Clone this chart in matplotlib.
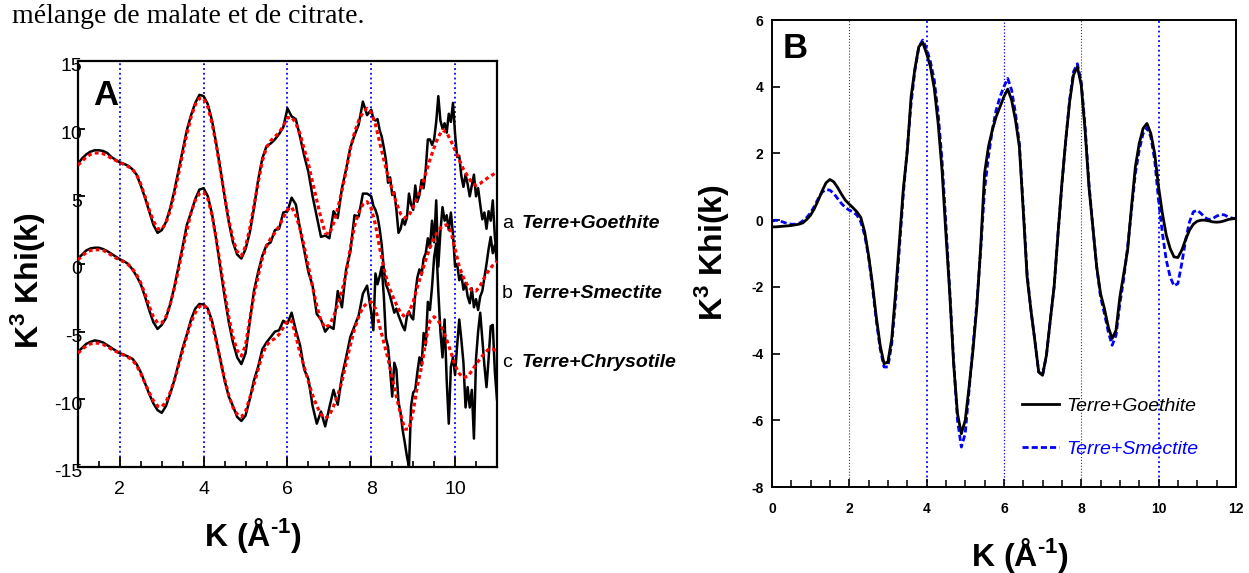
import numpy as np
import matplotlib
matplotlib.use("Agg")
import matplotlib.pyplot as plt
from matplotlib.ticker import MultipleLocator
from matplotlib.transforms import ScaledTranslation

plt.rcParams['font.family'] = ['Liberation Sans', 'DejaVu Sans']
plt.rcParams['axes.unicode_minus'] = False
plt.rcParams['mathtext.fontset'] = 'custom'
plt.rcParams['mathtext.rm'] = 'Liberation Sans:bold'
plt.rcParams['mathtext.bf'] = 'Liberation Sans:bold'

# ---------------- Panel A : EXAFS data (black) and fits (red) ----------------
kA_fit = np.round(np.arange(1.0, 11.001, 0.1), 2)
kA_data = np.round(np.concatenate([np.arange(1.0, 7.95, 0.1), np.arange(8.0, 11.001, 0.05)]), 2)

goethite_fit = [
    7.3, 7.6, 7.9, 8.1, 8.2, 8.2, 8.15, 8.0, 7.8, 7.65,
    7.5, 7.35, 7.2, 7.0, 6.6, 5.9, 5.0, 4.0, 3.2, 2.6,
    2.56, 3.03, 3.94, 5.18, 6.64, 8.16, 9.62, 10.86, 11.77, 12.24,
    12.22, 11.6, 10.41, 8.8, 6.94, 5.02, 3.25, 1.82, 0.92, 0.6,
    1.3, 2.6, 4.3, 6.0, 7.6, 8.6, 9.1, 9.4, 9.7, 10.2,
    10.8, 10.85, 10.4, 9.6, 8.5, 7.4, 6.0, 4.7, 3.4, 2.3,
    2.2, 3.0, 4.1, 5.4, 6.9, 8.5, 9.7, 10.6, 11.2, 11.5,
    11.2, 10.3, 9.0, 7.7, 6.5, 5.5, 4.5, 3.7, 3.4, 3.6,
    4.2, 4.9, 5.7, 6.7, 7.7, 8.6, 9.4, 9.9, 9.7, 9.1,
    8.4, 7.7, 7.0, 6.5, 6.0, 5.8, 5.95, 6.2, 6.4, 6.6,
    6.8]
goethite_data = [
    7.4, 7.8, 8.1, 8.3, 8.4, 8.4, 8.35, 8.2, 7.9, 7.7,
    7.5, 7.4, 7.25, 7.0, 6.6, 5.8, 4.9, 3.9, 2.9, 2.3,
    2.5, 3.1, 4.1, 5.4, 6.9, 8.4, 9.9, 11.0, 11.9, 12.5,
    12.4, 11.8, 10.6, 8.9, 7.0, 5.0, 3.1, 1.6, 0.7, 0.4,
    1.1, 2.3, 4.1, 6.2, 7.8, 8.7, 8.9, 9.2, 9.6, 10.1,
    11.5, 10.9, 10.7, 9.4, 8.0, 6.8, 5.0, 3.5, 2.0, 2.1,
    1.9, 3.9, 3.4, 5.6, 7.0, 8.6, 9.5, 10.3, 12.0, 11.0,
    11.4, 10.7, 10.6, 10.7, 9.9, 9.4, 8.6, 7.7, 6.0, 6.4,
    5.1, 5.3, 4.0, 2.3, 2.6, 3.3, 2.9, 3.4, 5.2, 4.4,
    4.0, 5.8, 4.6, 5.1, 6.2, 5.6, 7.0, 9.2, 9.2, 8.8,
    9.2, 10.5, 12.4, 10.6, 10.0, 10.4, 9.7, 11.1, 10.5, 11.9,
    9.6, 7.9, 8.0, 6.5, 5.7, 6.6, 5.9, 5.0, 5.8, 6.6,
    5.0, 5.6, 4.4, 3.3, 3.8, 2.6, 3.9, 3.2, 4.7, 2.0,
    0.3]

smectite_fit = [
    0.3, 0.6, 0.85, 1.0, 1.05, 1.05, 1.0, 0.85, 0.65, 0.45,
    0.3, 0.15, -0.05, -0.35, -0.8, -1.4, -2.2, -3.1, -3.9, -4.35,
    -4.35, -3.9, -3.0, -1.8, -0.4, 1.1, 2.5, 3.8, 4.7, 5.2,
    5.3, 4.8, 3.6, 1.9, -0.1, -2.1, -3.9, -5.4, -6.4, -6.8,
    -6.0, -4.1, -2.3, -0.9, 0.4, 1.3, 1.9, 2.3, 2.8, 3.4,
    4.0, 4.2, 3.6, 2.6, 1.3, -0.2, -1.7, -3.1, -4.2, -4.7,
    -4.5, -3.9, -3.0, -2.0, -0.7, 1.2, 2.8, 3.8, 4.4, 4.6,
    4.1, 2.9, 1.2, -0.3, -1.5, -2.3, -3.0, -3.6, -3.9, -3.6,
    -2.8, -1.7, -0.7, 0.3, 1.2, 1.9, 2.5, 2.8, 2.9, 2.4,
    1.1, -0.2, -1.0, -1.6, -1.95, -2.0, -1.6, -1.0, -0.5, -0.1,
    0.2]
smectite_data = [
    0.4, 0.7, 1.0, 1.15, 1.2, 1.2, 1.1, 0.95, 0.75, 0.55,
    0.35, 0.2, 0.0, -0.4, -0.9, -1.5, -2.4, -3.4, -4.3, -4.8,
    -4.5, -4.0, -3.0, -1.7, -0.2, 1.3, 2.9, 3.8, 4.8, 5.5,
    5.6, 5.0, 3.7, 1.8, -0.3, -2.4, -4.3, -5.8, -6.9, -7.4,
    -6.6, -4.3, -2.0, -0.6, 0.6, 1.4, 1.6, 2.5, 2.6, 3.8,
    3.9, 4.9, 4.4, 2.6, 1.0, -0.6, -1.6, -3.7, -4.1, -5.0,
    -4.6, -4.8, -2.0, -3.2, -0.4, 0.9, 3.6, 3.5, 5.2, 5.2,
    5.0, 4.3, 4.0, 3.5, 2.6, 1.4, -0.4, -1.5, -1.9, -2.4,
    -3.0, -3.6, -3.3, -3.8, -4.2, -4.6, -4.9, -3.9, -3.5, -3.9,
    -4.1, -2.2, -1.0, -0.4, -0.8, 0.4, 0.8, 1.9, 1.2, 3.2,
    1.6, 4.7, -0.2, 2.4, 4.2, 3.2, 3.6, 2.5, 3.8, 2.2,
    -0.2, 0.0, -1.2, -0.8, -1.9, -1.4, -2.4, -2.9, -1.8, -3.2,
    -2.6, -3.4, -2.4, -2.0, -1.0, 0.0, 1.1, 2.0, 0.8, 1.4,
    0.2]

chrysotile_fit = [
    -6.6, -6.3, -6.05, -5.9, -5.85, -5.85, -5.95, -6.1, -6.3, -6.45,
    -6.6, -6.75, -6.9, -7.1, -7.5, -8.1, -8.8, -9.5, -10.1, -10.5,
    -10.55, -10.2, -9.5, -8.6, -7.5, -6.4, -5.3, -4.3, -3.6, -3.15,
    -3.0, -3.4, -4.4, -5.7, -7.1, -8.5, -9.7, -10.6, -11.1, -11.3,
    -10.9, -9.9, -8.9, -7.8, -6.7, -6.0, -5.7, -5.5, -5.2, -4.7,
    -4.2, -4.2, -5.3, -6.6, -7.6, -8.7, -9.7, -10.5, -11.1, -11.4,
    -11.2, -10.5, -9.7, -8.7, -7.3, -6.0, -4.8, -3.9, -3.2, -2.9,
    -2.8, -3.3, -4.6, -5.8, -7.0, -8.4, -9.8, -11.1, -12.2, -12.2,
    -10.9, -9.0, -7.6, -5.7, -4.2, -3.9, -4.2, -4.8, -5.6, -6.5,
    -7.5, -8.1, -8.4, -8.3, -7.9, -7.4, -7.0, -6.6, -6.3, -6.3,
    -6.4]
chrysotile_data = [
    -6.5, -6.2, -5.9, -5.75, -5.65, -5.7, -5.8, -6.0, -6.2, -6.4,
    -6.6, -6.7, -6.85, -7.0, -7.4, -8.0, -8.8, -9.6, -10.3, -10.8,
    -11.0, -10.5, -9.6, -8.6, -7.4, -6.2, -5.2, -4.1, -3.3, -2.95,
    -3.0, -3.3, -4.2, -5.6, -7.1, -8.6, -9.8, -10.5, -11.3, -11.6,
    -11.2, -10.0, -8.6, -7.6, -6.3, -5.8, -5.4, -5.0, -4.9, -4.2,
    -4.4, -3.6, -4.9, -6.0, -7.8, -8.5, -10.5, -11.8, -10.9, -12.0,
    -10.6, -9.3, -10.4, -8.3, -6.9, -5.4, -4.6, -3.8, -2.2, -1.6,
    -3.6, -4.9, -0.7, -1.5, -0.9, -0.2, -2.4, -5.5, -6.1, -7.8,
    -9.8, -7.3, -7.8, -10.2, -11.0, -12.3, -13.2, -14.2, -15.0, -10.5,
    -9.5, -9.3, -8.0, -6.9, -7.5, -5.1, -6.0, -2.8, -3.4, -1.7,
    0.5, 1.5, -2.0, -5.0, -6.9, -4.1, -8.6, -11.8, -7.6, -6.9,
    -8.2, -6.0, -4.1, -5.6, -7.3, -10.6, -9.1, -10.6, -9.3, -12.9,
    -7.0, -5.0, -3.6, -5.6, -7.5, -9.1, -7.0, -4.6, -4.5, -8.0,
    -10.0]

samples_A = ['a', 'b', 'c']
names_A = ['Terre+Goethite', 'Terre+Smectite', 'Terre+Chrysotile']
xticks_A = [2, 4, 6, 8, 10]
yticks_A = [-15, -10, -5, 0, 5, 10, 15]

# ---------------- Panel B : Fourier-filtered curves ----------------
kB = np.round(np.arange(0.0, 12.001, 0.1), 2)
goethite_B = [
    -0.20, -0.20, -0.19, -0.18, -0.17, -0.16, -0.14, -0.12, -0.08, 0.02,
    0.15, 0.35, 0.60, 0.88, 1.12, 1.22, 1.15, 0.98, 0.78, 0.60,
    0.48, 0.37, 0.25, 0.08, -0.35, -1.05, -1.90, -2.90, -3.75, -4.30,
    -4.25, -3.55, -2.15, -0.60, 0.95, 2.05, 3.70, 4.55, 5.20, 5.33,
    5.00, 4.60, 3.95, 2.90, 1.50, -0.40, -2.20, -4.30, -5.80, -6.40,
    -6.00, -5.00, -3.90, -2.60, -0.80, 1.40, 2.20, 2.70, 3.10, 3.40,
    3.70, 3.93, 3.60, 3.00, 2.20, 0.30, -1.70, -2.70, -3.60, -4.55,
    -4.65, -4.05, -3.00, -1.98, -0.40, 1.10, 2.40, 3.55, 4.35, 4.60,
    4.05, 2.70, 1.00, -0.20, -1.40, -2.20, -2.65, -3.20, -3.55, -3.30,
    -2.30, -1.60, -0.90, 0.40, 1.60, 2.30, 2.75, 2.90, 2.60, 2.00,
    1.00, 0.20, -0.45, -0.85, -1.10, -1.12, -0.90, -0.58, -0.30, -0.12,
    -0.03, 0.00, 0.00, -0.02, -0.05, -0.06, -0.05, -0.02, 0.02, 0.04,
    0.05]
smectite_B = [
    -0.03, 0.00, -0.02, -0.06, -0.10, -0.12, -0.12, -0.10, -0.02, 0.08,
    0.22, 0.42, 0.65, 0.84, 0.92, 0.90, 0.80, 0.65, 0.50, 0.38,
    0.30, 0.25, 0.15, -0.05, -0.45, -1.10, -2.00, -3.00, -3.85, -4.40,
    -4.40, -3.70, -2.40, -0.80, 0.80, 2.10, 3.50, 4.50, 5.20, 5.40,
    5.15, 4.75, 4.20, 3.20, 1.80, -0.10, -2.10, -4.20, -6.00, -6.80,
    -6.40, -5.10, -3.80, -2.50, -0.90, 0.90, 1.90, 2.70, 3.30, 3.70,
    4.00, 4.25, 3.90, 3.20, 2.30, 0.40, -1.60, -2.70, -3.60, -4.55,
    -4.65, -4.05, -3.00, -2.00, -0.40, 1.05, 2.40, 3.60, 4.45, 4.69,
    4.15, 2.80, 1.10, -0.20, -1.40, -2.30, -2.80, -3.35, -3.75, -3.45,
    -2.50, -1.75, -0.80, 0.30, 1.40, 2.10, 2.60, 2.77, 2.50, 1.80,
    0.60, -0.40, -1.20, -1.70, -1.97, -1.90, -1.30, -0.60, -0.05, 0.25,
    0.30, 0.20, 0.08, 0.02, 0.05, 0.12, 0.17, 0.16, 0.10, 0.06,
    0.05]
xticks_B = [0, 2, 4, 6, 8, 10, 12]
yticks_B = [-8, -6, -4, -2, 0, 2, 4, 6]
vlines_B = [2, 4, 6, 8, 10]
vcolors_B = ['#3a3a6a', 'blue', 'blue', '#3a3a6a', 'blue']
vwidths_B = [0.8, 1.3, 0.9, 0.8, 1.3]

ylab = r'K$^{\mathbf{3}}$ Khi(k)'
xlab = r'K (Å$^{\text{-}\mathbf{1}}$)'

fig = plt.figure(figsize=(12.49, 5.73), dpi=100)

# caption fragment above the figure
fig.text(0.0096, 0.960, 'mélange de malate et de citrate.', family='Liberation Serif',
         fontsize=20, va='baseline', ha='left')

# ----- A -----
axA = fig.add_axes([0.0624, 0.185, 0.3355, 0.7086])
for xv in xticks_A:
    axA.axvline(xv, color='blue', ls=':', lw=1.3, zorder=1)
for d, f in [(goethite_data, goethite_fit), (smectite_data, smectite_fit),
             (chrysotile_data, chrysotile_fit)]:
    axA.plot(kA_data, d, color='black', lw=1.8, zorder=2)
    axA.plot(kA_fit, f, color='red', ls=(0, (1.2, 1.0)), lw=2.3, zorder=3)
axA.set_xlim(1, 11)
axA.set_ylim(-15, 15)
axA.set_xticks(xticks_A)
axA.set_yticks(yticks_A)
axA.xaxis.set_minor_locator(MultipleLocator(0.5))
axA.tick_params(axis='x', which='major', direction='in', length=7, width=1.3,
                pad=10, labelsize=14)
axA.tick_params(axis='x', which='minor', direction='in', length=4, width=1.2)
axA.tick_params(axis='y', which='major', direction='in', length=5, width=1.3,
                pad=-3, labelsize=14)
# tick labels sit a little below their ticks in the original
shift = ScaledTranslation(0, -0.04, fig.dpi_scale_trans)
for t in axA.get_yticklabels():
    t.set_transform(t.get_transform() + shift)
for s in axA.spines.values():
    s.set_linewidth(1.6)
axA.text(0.036, 0.955, 'A', transform=axA.transAxes, fontsize=25,
         fontweight='bold', va='top', ha='left')

ys = [0.602, 0.480, 0.360]
for lab, name, yy in zip(samples_A, names_A, ys):
    fig.text(0.4017, yy, lab, fontsize=14, va='baseline')
    fig.text(0.4177, yy, name, fontsize=14, fontweight='bold', style='italic',
             va='baseline')

fig.text(0.0224, 0.51, ylab, rotation=90, fontsize=23, fontweight='bold',
         ha='center', va='center')
fig.text(0.2026, 0.066, xlab, fontsize=23, fontweight='bold',
         ha='center', va='center')

# ----- B -----
axB = fig.add_axes([0.618, 0.150, 0.3715, 0.815])
for xv, c, w in zip(vlines_B, vcolors_B, vwidths_B):
    axB.axvline(xv, color=c, ls=':', lw=w, zorder=1)
lg, = axB.plot(kB, goethite_B, color='black', lw=2.0, zorder=3,
               label='Terre+Goethite')
ls_, = axB.plot(kB, smectite_B, color='blue', ls=(0, (2.2, 1.1)), lw=2.0,
                zorder=2, label='Terre+Smectite')
axB.set_xlim(0, 12)
axB.set_ylim(-8, 6)
axB.set_xticks(xticks_B)
axB.set_yticks(yticks_B)
axB.xaxis.set_minor_locator(MultipleLocator(0.5))
axB.tick_params(axis='x', which='major', direction='in', length=6, width=1.2,
                pad=11, labelsize=10)
axB.tick_params(axis='x', which='minor', direction='in', length=5, width=1.1)
axB.tick_params(axis='y', which='major', direction='in', length=6, width=1.2,
                pad=6, labelsize=10)
for t in axB.get_xticklabels() + axB.get_yticklabels():
    t.set_fontweight('bold')
for s in axB.spines.values():
    s.set_linewidth(1.4)
axB.text(0.024, 0.975, 'B', transform=axB.transAxes, fontsize=25,
         fontweight='bold', va='top', ha='left')
axB.legend(handles=[lg, ls_], loc='upper left', bbox_to_anchor=(0.502, 0.229),
           frameon=False, prop={'style': 'italic', 'size': 14},
           handlelength=1.9, handletextpad=0.35, labelspacing=1.3,
           labelcolor=['black', 'blue'])

fig.text(0.570, 0.56, ylab, rotation=90, fontsize=23, fontweight='bold',
         ha='center', va='center')
fig.text(0.8167, 0.031, xlab, fontsize=23, fontweight='bold',
         ha='center', va='center')

fig.savefig('out.png', dpi=100)
